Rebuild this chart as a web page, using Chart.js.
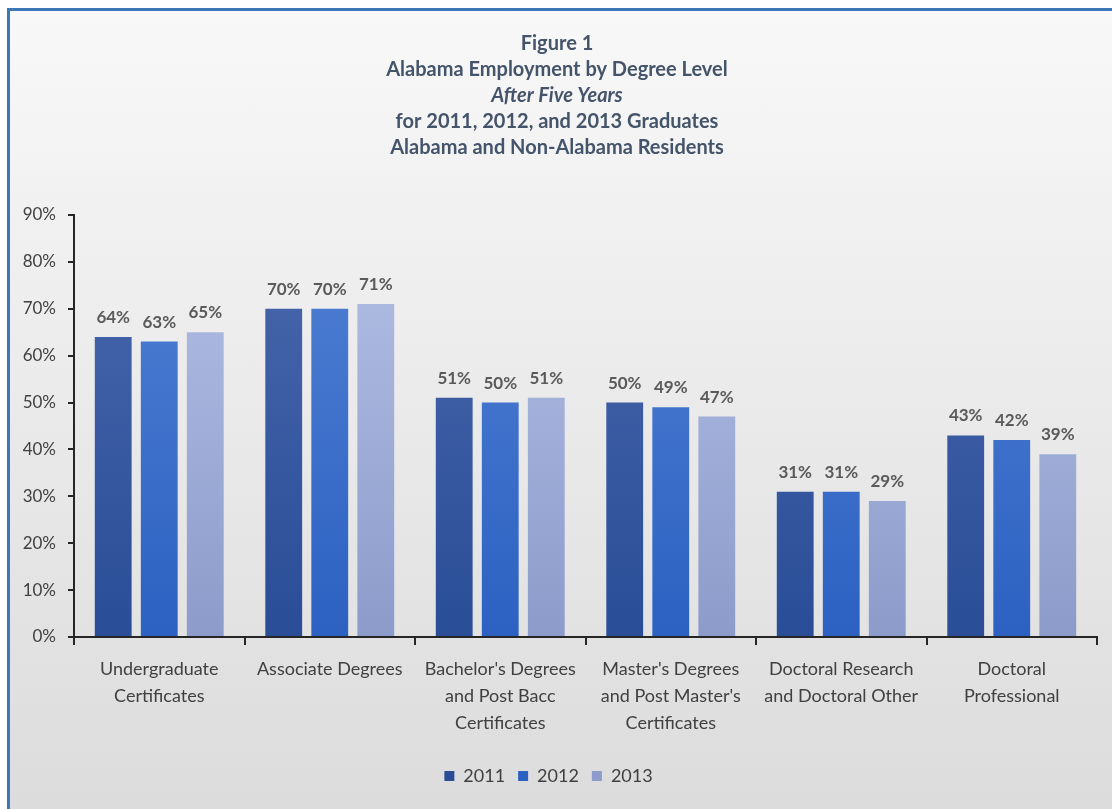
<!DOCTYPE html>
<html>
<head>
<meta charset="utf-8">
<script src="https://cdn.jsdelivr.net/npm/chart.js@4/dist/chart.umd.min.js"></script>
<style>
  html, body { margin: 0; padding: 0; background: #fff; overflow: hidden; }
  #frame {
    position: absolute; left: 7px; top: 8px; width: 1200px; height: 798px;
    border: 3px solid #3a78b8; border-right: none;
    background: linear-gradient(#f8f8f8, #dcdcdc);
  }
  #mixedChart { position: absolute; left: 0; top: 0; }
</style>
</head>
<body>
<div id="frame"></div>
<canvas id="mixedChart" width="1112" height="809"></canvas>
<script>
// degree levels along the x axis
var labels = [
  ['Undergraduate', 'Certificates'],
  'Associate Degrees',
  ["Bachelor's Degrees", 'and Post Bacc', 'Certificates'],
  ["Master's Degrees", "and Post Master's", 'Certificates'],
  ['Doctoral Research', 'and Doctoral Other'],
  ['Doctoral', 'Professional']
];

// percent employed after five years, by graduating class
var vals2011 = [64, 70, 51, 50, 31, 43];
var vals2012 = [63, 70, 50, 49, 31, 42];
var vals2013 = [65, 71, 51, 47, 29, 39];

var yTicks = [0, 10, 20, 30, 40, 50, 60, 70, 80, 90];

var titleLines = [
  { text: 'Figure 1', italic: false },
  { text: 'Alabama Employment by Degree Level', italic: false },
  { text: 'After Five Years', italic: true },
  { text: 'for 2011, 2012, and 2013 Graduates', italic: false },
  { text: 'Alabama and Non-Alabama Residents', italic: false }
];

var FONT = 'Lato, "Open Sans", sans-serif';

function barFill(top, bottom) {
  return function (c) {
    var area = c.chart.chartArea;
    if (!area) return bottom;
    var g = c.chart.ctx.createLinearGradient(0, area.top, 0, area.bottom);
    g.addColorStop(0, top);
    g.addColorStop(1, bottom);
    return g;
  };
}

// five-line heading, one of them italic
var headingPlugin = {
  id: 'heading',
  afterDraw: function (chart) {
    var ctx = chart.ctx;
    ctx.save();
    ctx.fillStyle = '#44546a';
    ctx.textAlign = 'center';
    ctx.textBaseline = 'middle';
    for (var i = 0; i < titleLines.length; i++) {
      var ln = titleLines[i];
      ctx.font = (ln.italic ? 'italic ' : '') + 'bold 20px ' + FONT;
      ctx.fillText(ln.text, 557, 44 + i * 26);
    }
    ctx.restore();
  }
};

// percent labels above each bar
var valueLabels = {
  id: 'valueLabels',
  afterDatasetsDraw: function (chart) {
    var ctx = chart.ctx;
    ctx.save();
    ctx.font = 'bold 17px ' + FONT;
    ctx.fillStyle = '#5a5a5a';
    ctx.textAlign = 'center';
    ctx.textBaseline = 'bottom';
    chart.data.datasets.forEach(function (ds, i) {
      chart.getDatasetMeta(i).data.forEach(function (bar, j) {
        ctx.fillText(ds.data[j] + '%', bar.x, bar.y - 11);
      });
    });
    ctx.restore();
  }
};

var ctx = document.getElementById('mixedChart').getContext('2d');
var myChart = new Chart(ctx, {
  type: 'bar',
  data: {
    labels: labels,
    datasets: [{
      label: '2011',
      data: vals2011,
      backgroundColor: barFill('#4a68ad', '#294d97')
    }, {
      label: '2012',
      data: vals2012,
      backgroundColor: barFill('#5181d4', '#2c61c2')
    }, {
      label: '2013',
      data: vals2013,
      backgroundColor: barFill('#b4c1e7', '#8c9bca')
    }]
  },
  options: {
    responsive: false,
    animation: false,
    devicePixelRatio: 1,
    categoryPercentage: 0.81,
    barPercentage: 0.8,
    layout: { padding: { top: 215, left: 0, right: 15, bottom: 14 } },
    scales: {
      y: {
        min: 0,
        max: 90,
        afterBuildTicks: function (s) {
          s.ticks = yTicks.map(function (v) { return { value: v }; });
        },
        afterFit: function (s) { s.width = 74; },
        border: { color: '#262626', width: 2 },
        grid: { drawOnChartArea: false, tickLength: 6, color: '#262626', lineWidth: 2 },
        ticks: {
          color: '#404040',
          font: { family: FONT, size: 17 },
          padding: 12,
          callback: function (v) { return v + '%'; }
        }
      },
      x: {
        afterFit: function (s) { s.height = 117; },
        border: { color: '#262626', width: 2 },
        grid: { drawOnChartArea: false, tickLength: 8, color: '#262626', lineWidth: 2 },
        ticks: {
          color: '#404040',
          font: { family: FONT, size: 18, lineHeight: 1.5 },
          padding: 11,
          maxRotation: 0
        }
      }
    },
    plugins: {
      title: { display: false },
      tooltip: { enabled: false },
      legend: {
        position: 'bottom',
        labels: {
          boxWidth: 10,
          boxHeight: 10,
          padding: 13,
          color: '#404040',
          font: { family: FONT, size: 18 }
        }
      }
    }
  },
  plugins: [headingPlugin, valueLabels]
});
</script>
</body>
</html>
